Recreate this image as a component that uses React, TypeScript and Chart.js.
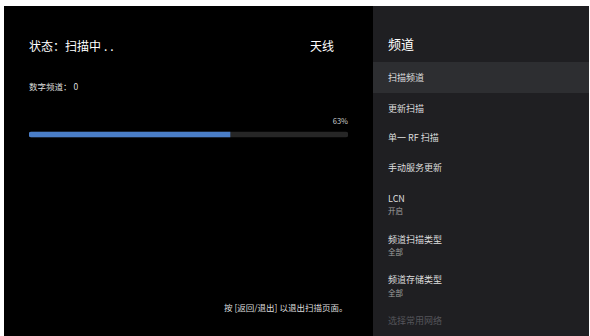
import React, { useEffect, useRef } from "react";
import { Chart, registerables } from "chart.js";

Chart.register(...registerables);

// ---- data ----
const progressCategories: string[] = ["扫描进度"];
const progressValues: number[] = [63];
const trackValues: number[] = [100];
const progressLabel = "63%";
const statusTitle = "状态：扫描中";
const statusDots = "..";
const sourceLabel = "天线";
const digitalChannelLabel = "数字频道：";
const digitalChannelCount: number[] = [0];
const hintText = "按 [返回/退出] 以退出扫描页面。";
const menuTitle = "频道";
const menuItems: string[] = ["扫描频道", "更新扫描", "单一 RF 扫描", "手动服务更新", "LCN", "频道扫描类型", "频道存储类型", "选择常用网络"];
const menuSubtitles: string[] = ["", "", "", "", "开启", "全部", "全部", ""];

const FONT = "'Noto Sans CJK SC', 'Noto Sans', sans-serif";

function ProgressBar() {
  const ref = useRef<HTMLCanvasElement | null>(null);
  useEffect(() => {
    if (!ref.current) return;
    const chart = new Chart(ref.current, {
      type: "bar",
      data: {
        labels: progressCategories,
        datasets: [
          {
            label: "progress",
            data: progressValues,
            backgroundColor: "#4a7ec8",
            barThickness: 5,
            borderSkipped: false,
            borderRadius: { topLeft: 3, bottomLeft: 3, topRight: 0, bottomRight: 0 },
            order: 0,
          },
          {
            label: "track",
            data: trackValues,
            backgroundColor: "#262626",
            barThickness: 5,
            borderSkipped: false,
            borderRadius: 3,
            order: 1,
          },
        ],
      },
      options: {
        indexAxis: "y",
        responsive: false,
        maintainAspectRatio: false,
        animation: false,
        layout: { padding: 0 },
        datasets: { bar: { grouped: false } },
        scales: {
          x: { display: false, min: 0, max: 100 },
          y: { display: false },
        },
        plugins: { legend: { display: false }, tooltip: { enabled: false } },
      },
    });
    return () => chart.destroy();
  }, []);
  return (
    <canvas
      ref={ref}
      width={319}
      height={19}
      style={{ position: "absolute", left: 29, top: 125, width: 319, height: 19 }}
    />
  );
}

function Txt(props: { x: number; cy: number; size: number; color: string; text: React.ReactNode; right?: boolean }) {
  const lh = 20;
  const style: React.CSSProperties = {
    position: "absolute",
    top: props.cy - lh / 2,
    lineHeight: lh + "px",
    fontSize: props.size,
    color: props.color,
    fontFamily: FONT,
    whiteSpace: "pre",
  };
  if (props.right) style.right = 590 - props.x;
  else style.left = props.x;
  return <div style={style}>{props.text}</div>;
}

export default function App() {
  const itemCy = [78, 109, 138, 168, 199, 240, 280, 321];
  const subCy = [0, 0, 0, 0, 211, 252, 293, 0];
  return (
    <div style={{ position: "fixed", left: 0, top: 0, width: 590, height: 336, background: "#ffffff", overflow: "hidden" }}>
      <div style={{ position: "absolute", left: 4, top: 6, width: 369, height: 330, background: "#000000" }} />
      <div style={{ position: "absolute", left: 373, top: 6, width: 216, height: 330, background: "#1f1f22" }} />
      <div style={{ position: "absolute", left: 373, top: 62, width: 216, height: 31, background: "#2d2e31" }} />

      <Txt
        x={29}
        cy={46}
        size={12}
        color="#ffffff"
        text={
          <>
            {statusTitle}
            <span style={{ letterSpacing: "3px", marginLeft: 3 }}>{statusDots}</span>
          </>
        }
      />
      <Txt x={310} cy={46} size={12} color="#ffffff" text={sourceLabel} />
      <Txt x={29} cy={86} size={8.5} color="#dddddd" text={digitalChannelLabel + " " + digitalChannelCount[0]} />
      <Txt x={348} cy={121} size={7.5} color="#cccccc" text={progressLabel} right />
      <ProgressBar />
      <Txt x={224} cy={307} size={8.5} color="#dddddd" text={hintText} />

      <Txt x={388} cy={44} size={13} color="#ffffff" text={menuTitle} />
      {menuItems.map((m, i) => (
        <Txt key={"m" + i} x={388} cy={itemCy[i]} size={9} color={i === menuItems.length - 1 ? "#55555a" : "#dedede"} text={m} />
      ))}
      {menuSubtitles.map((s, i) =>
        s ? <Txt key={"s" + i} x={388} cy={subCy[i]} size={7.5} color="#a0a0a0" text={s} /> : null
      )}
    </div>
  );
}
